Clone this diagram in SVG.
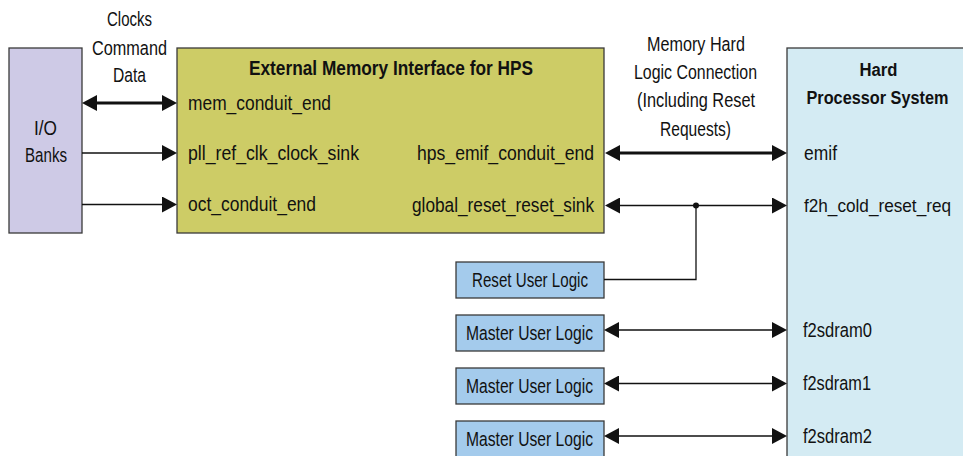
<svg xmlns="http://www.w3.org/2000/svg" width="963" height="456" viewBox="0 0 963 456">
<style>
  text { font-family: "Liberation Sans Narrow", "Liberation Sans", Arial, sans-serif; font-size: 20.5px; fill: #111; }
  .b { font-weight: bold; font-size: 20px; }
  .hb { font-weight: bold; font-size: 17.5px; }
  .sm { font-size: 18.5px; }
  .box { stroke: #3a3a3a; stroke-width: 1.3; }
  .io { fill: #cecae6; }
  .emif { fill: #cdcc66; }
  .hps { fill: #d4ebf3; }
  .ul { fill: #a4cbec; }
  .thin { stroke: #111; stroke-width: 1.3; fill: none; }
  .thick { stroke: #111; stroke-width: 3; fill: none; }
  .c { text-anchor: middle; }
  .e { text-anchor: end; }
</style>
<defs>
  <marker id="ah" markerUnits="userSpaceOnUse" markerWidth="15" markerHeight="16" viewBox="0 0 15 16" refX="0" refY="8" orient="auto-start-reverse">
    <path d="M0,0 L15,8 L0,16 Z" fill="#111"/>
  </marker>
</defs>

<g id="io-banks">
  <rect class="box io" x="9" y="48" width="73" height="185"/>
  <text class="c" x="45.5" y="135" textLength="23" lengthAdjust="spacingAndGlyphs">I/O</text>
  <text class="c" x="46" y="162" textLength="42" lengthAdjust="spacingAndGlyphs">Banks</text>
</g>

<g id="emif">
  <rect class="box emif" x="177" y="48" width="427" height="185"/>
  <text class="b c" x="391" y="75" textLength="284" lengthAdjust="spacingAndGlyphs">External Memory Interface for HPS</text>
  <text x="188" y="110" textLength="143" lengthAdjust="spacingAndGlyphs">mem_conduit_end</text>
  <text x="188" y="160" textLength="171" lengthAdjust="spacingAndGlyphs">pll_ref_clk_clock_sink</text>
  <text x="188" y="211" textLength="128" lengthAdjust="spacingAndGlyphs">oct_conduit_end</text>
  <text class="e" x="594" y="160" textLength="177" lengthAdjust="spacingAndGlyphs">hps_emif_conduit_end</text>
  <text class="e" x="594" y="212" textLength="182" lengthAdjust="spacingAndGlyphs">global_reset_reset_sink</text>
</g>

<g id="hps">
  <rect class="box hps" x="787" y="48" width="177" height="410"/>
  <text class="hb c" x="878.5" y="76" textLength="38" lengthAdjust="spacingAndGlyphs">Hard</text>
  <text class="hb c" x="877.5" y="104" textLength="142" lengthAdjust="spacingAndGlyphs">Processor System</text>
  <text x="804" y="160" textLength="33" lengthAdjust="spacingAndGlyphs">emif</text>
  <text class="sm" x="804" y="212" textLength="147" lengthAdjust="spacingAndGlyphs">f2h_cold_reset_req</text>
  <text x="803" y="336.5" textLength="69" lengthAdjust="spacingAndGlyphs">f2sdram0</text>
  <text x="803" y="390" textLength="68" lengthAdjust="spacingAndGlyphs">f2sdram1</text>
  <text x="803" y="442.5" textLength="69" lengthAdjust="spacingAndGlyphs">f2sdram2</text>
</g>

<g id="reset-user-logic">
  <rect class="box ul" x="456" y="262" width="148" height="36"/>
  <text class="c" x="530" y="286.5" textLength="116" lengthAdjust="spacingAndGlyphs">Reset User Logic</text>
</g>

<g id="master-user-logic-0">
  <rect class="box ul" x="456" y="315" width="148" height="36"/>
  <text class="c" x="529.5" y="339.5" textLength="127" lengthAdjust="spacingAndGlyphs">Master User Logic</text>
</g>

<g id="master-user-logic-1">
  <rect class="box ul" x="456" y="368" width="148" height="36"/>
  <text class="c" x="529.5" y="392.5" textLength="127" lengthAdjust="spacingAndGlyphs">Master User Logic</text>
</g>

<g id="master-user-logic-2">
  <rect class="box ul" x="456" y="421" width="148" height="40"/>
  <text class="c" x="529.5" y="445.5" textLength="127" lengthAdjust="spacingAndGlyphs">Master User Logic</text>
</g>

<g id="connectors">
  <line class="thick" x1="97" y1="103" x2="162" y2="103" marker-start="url(#ah)" marker-end="url(#ah)"/>
  <line class="thin" x1="82" y1="153" x2="162" y2="153" marker-end="url(#ah)"/>
  <line class="thin" x1="82" y1="204.5" x2="162" y2="204.5" marker-end="url(#ah)"/>
  <line class="thick" x1="620" y1="153" x2="772" y2="153" marker-start="url(#ah)" marker-end="url(#ah)"/>
  <line class="thin" x1="620" y1="205.5" x2="772" y2="205.5" marker-start="url(#ah)" marker-end="url(#ah)"/>
  <polyline class="thin" points="604,279.5 696,279.5 696,205.5"/>
  <circle cx="696" cy="205.5" r="3" fill="#111"/>
  <line class="thin" x1="619" y1="330" x2="772" y2="330" marker-start="url(#ah)" marker-end="url(#ah)"/>
  <line class="thin" x1="619" y1="383.5" x2="772" y2="383.5" marker-start="url(#ah)" marker-end="url(#ah)"/>
  <line class="thin" x1="619" y1="436" x2="772" y2="436" marker-start="url(#ah)" marker-end="url(#ah)"/>
</g>

<g id="labels">
  <text class="c" x="129.5" y="26" textLength="45" lengthAdjust="spacingAndGlyphs">Clocks</text>
  <text class="c" x="129.5" y="55" textLength="75" lengthAdjust="spacingAndGlyphs">Command</text>
  <text class="c" x="129.5" y="82" textLength="33" lengthAdjust="spacingAndGlyphs">Data</text>
  <text class="c" x="696" y="51" textLength="98" lengthAdjust="spacingAndGlyphs">Memory Hard</text>
  <text class="c" x="695.5" y="79" textLength="123" lengthAdjust="spacingAndGlyphs">Logic Connection</text>
  <text class="c" x="696" y="107" textLength="118" lengthAdjust="spacingAndGlyphs">(Including Reset</text>
  <text class="c" x="695.5" y="135.5" textLength="71" lengthAdjust="spacingAndGlyphs">Requests)</text>
</g>
</svg>
